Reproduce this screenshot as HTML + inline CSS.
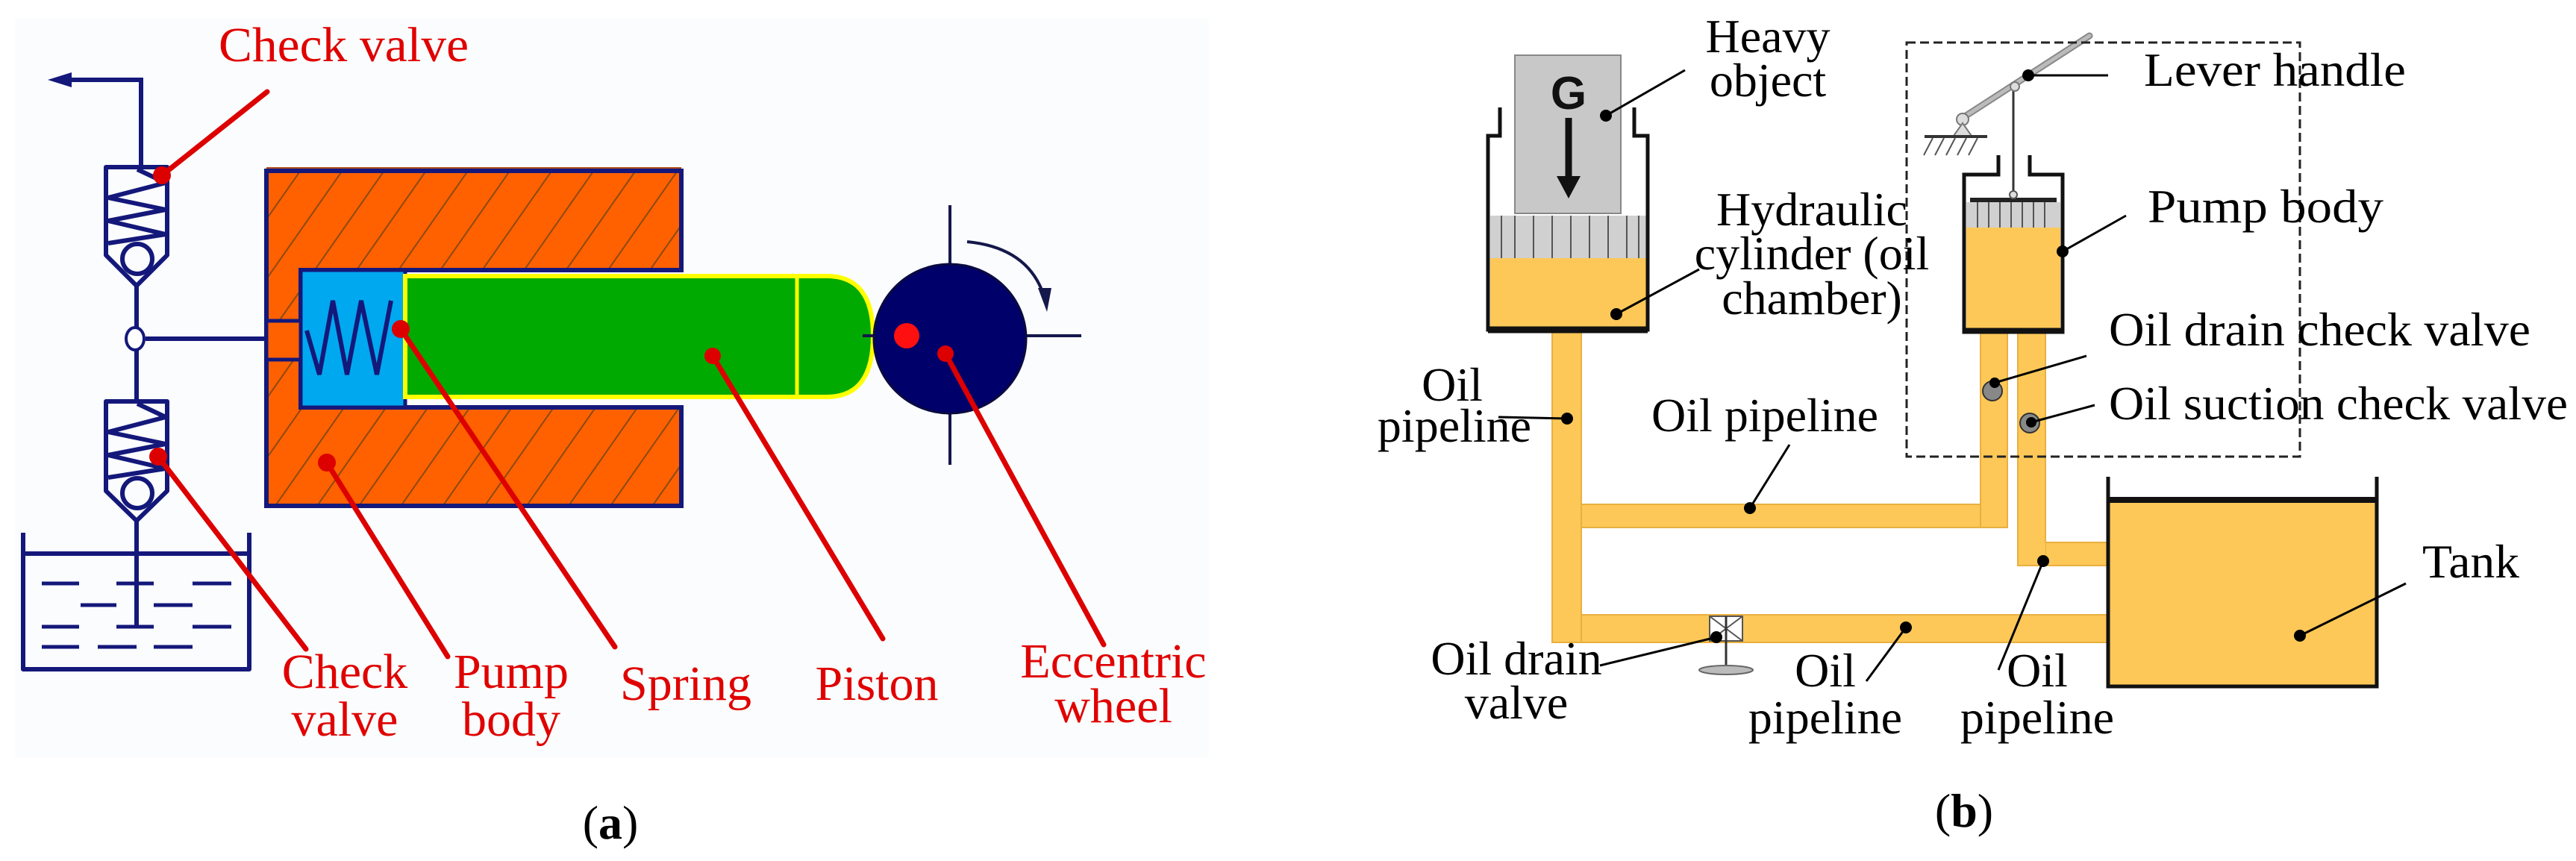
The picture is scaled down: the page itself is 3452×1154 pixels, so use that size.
<!DOCTYPE html>
<html><head><meta charset="utf-8"><style>
html,body{margin:0;padding:0;background:#fff;}
svg{display:block;}
.r{font-family:"Liberation Serif",serif;fill:#e00000;font-size:66px;}
.b{font-family:"Liberation Serif",serif;fill:#000;font-size:64px;}
</style></head><body>
<svg width="3452" height="1154" viewBox="0 0 3452 1154" xmlns="http://www.w3.org/2000/svg">
<defs>
<pattern id="hatch" width="46" height="46" patternUnits="userSpaceOnUse" patternTransform="rotate(35)">
<rect width="46" height="46" fill="#ff6000"/>
<line x1="0" y1="0" x2="0" y2="46" stroke="#8a4a12" stroke-width="4"/>
</pattern>
</defs>
<rect x="0" y="0" width="3452" height="1154" fill="#fff"/>
<rect x="20" y="25" width="1600" height="990" fill="#fafcfd"/>

<!-- (a) -->
<g stroke="#14187a" stroke-width="6" fill="none">
<polyline points="189,224 189,107 90,107"/>
</g>
<polygon points="64,107 96,97 96,117" fill="#14187a"/>
<g stroke="#14187a" stroke-width="6" fill="none" stroke-linejoin="round">
<path d="M142,224 H224 V342 L183,383 L142,342 Z"/>
<polyline points="184,227 222,245 145,265 222,281 145,296 222,314 145,326"/>
<circle cx="184" cy="347" r="20"/>
<line x1="183" y1="383" x2="183" y2="442"/>
<line x1="195" y1="454" x2="357" y2="454"/>
<line x1="183" y1="466" x2="183" y2="538"/>
<path d="M142,538 H224 V658 L183,698 L142,658 Z"/>
<polyline points="184,541 222,559 145,579 222,595 145,610 222,628 145,640"/>
<circle cx="184" cy="661" r="20"/>
<line x1="183" y1="698" x2="183" y2="842"/>
<polyline points="31,714 31,897 334,897 334,714"/>
<line x1="31" y1="742" x2="334" y2="742"/>
</g>
<ellipse cx="181" cy="454" rx="12" ry="15" fill="#fff" stroke="#14187a" stroke-width="4"/>
<g stroke="#14187a" stroke-width="5">
<line x1="56" y1="782" x2="106" y2="782"/><line x1="156" y1="782" x2="206" y2="782"/><line x1="258" y1="782" x2="310" y2="782"/>
<line x1="108" y1="811" x2="156" y2="811"/><line x1="206" y1="811" x2="258" y2="811"/>
<line x1="56" y1="840" x2="106" y2="840"/><line x1="156" y1="840" x2="206" y2="840"/><line x1="258" y1="840" x2="310" y2="840"/>
<line x1="56" y1="867" x2="106" y2="867"/><line x1="131" y1="867" x2="183" y2="867"/><line x1="206" y1="867" x2="258" y2="867"/>
</g>
<rect x="357" y="224" width="556" height="5" fill="#b05020"/>
<path d="M357,229 H913 V362 H403 V546 H913 V678 H357 Z" fill="url(#hatch)" stroke="#14187a" stroke-width="6"/>
<rect x="357" y="430" width="46" height="52" fill="#ff6000" stroke="#14187a" stroke-width="5"/>
<rect x="403" y="362" width="140" height="184" fill="#00a8f0" stroke="#14187a" stroke-width="5"/>
<polyline points="411,443 428,502 446,403 465,502 484,403 505,502 524,403" fill="none" stroke="#14187a" stroke-width="6"/>
<path d="M543,370 H1108 Q1170,370 1170,450 Q1170,532 1108,532 H543 Z" fill="#00aa00" stroke="#ffff00" stroke-width="6"/>
<line x1="1068" y1="372" x2="1068" y2="530" stroke="#ffff00" stroke-width="5"/>
<g stroke="#14184a" stroke-width="4">
<line x1="1273" y1="275" x2="1273" y2="623"/>
<line x1="1156" y1="450" x2="1449" y2="450"/>
</g>
<ellipse cx="1273" cy="454" rx="102" ry="100" fill="#00006a" stroke="#0a0a40" stroke-width="3"/>
<path d="M1296,324 Q1380,332 1400,400" fill="none" stroke="#14184a" stroke-width="4"/>
<polygon points="1403,418 1391,386 1409,386" fill="#14184a"/>
<circle cx="1215" cy="450" r="17" fill="#ff1010"/>
<g stroke="#dd0000" stroke-width="7" stroke-linecap="round">
<line x1="217" y1="235" x2="358" y2="123"/>
<line x1="212" y1="612" x2="410" y2="870"/>
<line x1="438" y1="620" x2="600" y2="880"/>
<line x1="537" y1="441" x2="824" y2="867"/>
<line x1="955" y1="477" x2="1183" y2="856"/>
<line x1="1267" y1="474" x2="1479" y2="864"/>
</g>
<g fill="#dd0000">
<circle cx="217" cy="235" r="12"/><circle cx="212" cy="612" r="12"/><circle cx="438" cy="620" r="12"/>
<circle cx="537" cy="441" r="12"/><circle cx="955" cy="477" r="11"/><circle cx="1267" cy="474" r="11"/>
</g>
<text class="r" x="293" y="82" textLength="335" lengthAdjust="spacingAndGlyphs">Check valve</text>
<g class="r" text-anchor="middle">
<text x="462" y="922">Check</text><text x="462" y="986">valve</text>
<text x="685" y="922">Pump</text><text x="685" y="986">body</text>
<text x="919" y="938">Spring</text>
<text x="1175" y="938">Piston</text>
<text x="1492" y="908">Eccentric</text><text x="1492" y="968">wheel</text>
</g>
<text x="818" y="1124" text-anchor="middle" font-family="Liberation Serif,serif" font-size="64">(<tspan font-weight="bold">a</tspan>)</text>

<!-- (b) -->
<g fill="#fdc858" stroke="#e8b040" stroke-width="2">
<rect x="2080" y="440" width="39" height="421"/>
<rect x="2119" y="676" width="571" height="31"/>
<rect x="2654" y="440" width="36" height="267"/>
<rect x="2119" y="824" width="706" height="37"/>
<rect x="2704" y="440" width="37" height="318"/>
<rect x="2741" y="727" width="84" height="31"/>
</g>
<rect x="2081" y="676" width="37" height="184" fill="#fdc858"/>
<rect x="2655" y="676" width="34" height="30" fill="#fdc858"/>
<rect x="2705" y="727" width="36" height="30" fill="#fdc858"/>
<rect x="2030" y="74" width="142" height="212" fill="#c8c8c8" stroke="#888" stroke-width="2"/>
<text x="2102" y="146" text-anchor="middle" font-family="Liberation Sans,sans-serif" font-weight="bold" font-size="62" fill="#111">G</text>
<line x1="2102" y1="158" x2="2102" y2="240" stroke="#111" stroke-width="9"/>
<polygon points="2102,266 2086,236 2118,236" fill="#111"/>
<rect x="1997" y="289" width="209" height="57" fill="#d0d0d0"/>
<g stroke="#555" stroke-width="2">
<line x1="2012" y1="289" x2="2012" y2="346"/><line x1="2030" y1="289" x2="2030" y2="346"/><line x1="2055" y1="289" x2="2055" y2="346"/><line x1="2080" y1="289" x2="2080" y2="346"/><line x1="2105" y1="289" x2="2105" y2="346"/><line x1="2130" y1="289" x2="2130" y2="346"/><line x1="2155" y1="289" x2="2155" y2="346"/><line x1="2180" y1="289" x2="2180" y2="346"/><line x1="2196" y1="289" x2="2196" y2="346"/>
</g>
<rect x="1997" y="346" width="209" height="94" fill="#fdc858"/>
<polyline points="2010,144 2010,182 1994,182 1994,442 2208,442 2208,182 2190,182 2190,144" fill="none" stroke="#111" stroke-width="5"/>
<line x1="1994" y1="442" x2="2208" y2="442" stroke="#111" stroke-width="9"/>
<rect x="2635" y="271" width="126" height="34" fill="#d0d0d0"/>
<g stroke="#555" stroke-width="2">
<line x1="2650" y1="271" x2="2650" y2="305"/><line x1="2665" y1="271" x2="2665" y2="305"/><line x1="2680" y1="271" x2="2680" y2="305"/><line x1="2695" y1="271" x2="2695" y2="305"/><line x1="2710" y1="271" x2="2710" y2="305"/><line x1="2725" y1="271" x2="2725" y2="305"/><line x1="2740" y1="271" x2="2740" y2="305"/>
</g>
<rect x="2640" y="265" width="116" height="6" fill="#222"/>
<rect x="2635" y="305" width="126" height="137" fill="#fdc858"/>
<polyline points="2678,208 2678,234 2632,234 2632,445 2764,445 2764,234 2720,234 2720,208" fill="none" stroke="#111" stroke-width="5"/>
<line x1="2632" y1="443" x2="2764" y2="443" stroke="#111" stroke-width="7"/>
<line x1="2698" y1="112" x2="2698" y2="260" stroke="#333" stroke-width="3"/>
<circle cx="2698" cy="261" r="5" fill="#ddd" stroke="#555" stroke-width="2"/>
<line x1="2630" y1="158" x2="2800" y2="48" stroke="#888" stroke-width="9" stroke-linecap="round"/>
<line x1="2630" y1="158" x2="2800" y2="48" stroke="#bbb" stroke-width="5" stroke-linecap="round"/>
<circle cx="2630" cy="160" r="8" fill="#ddd" stroke="#777" stroke-width="2"/>
<circle cx="2700" cy="116" r="6" fill="#ddd" stroke="#777" stroke-width="2"/>
<path d="M2630,165 L2618,182 H2642 Z" fill="#ddd" stroke="#777" stroke-width="2"/>
<line x1="2579" y1="183" x2="2663" y2="183" stroke="#333" stroke-width="4"/>
<g stroke="#555" stroke-width="2">
<line x1="2590" y1="185" x2="2578" y2="208"/><line x1="2605" y1="185" x2="2593" y2="208"/><line x1="2620" y1="185" x2="2608" y2="208"/><line x1="2635" y1="185" x2="2623" y2="208"/><line x1="2650" y1="185" x2="2638" y2="208"/>
</g>
<circle cx="2670" cy="524" r="13" fill="#888" stroke="#333" stroke-width="2"/>
<circle cx="2720" cy="567" r="13" fill="#888" stroke="#333" stroke-width="2"/>
<rect x="2555" y="57" width="527" height="555" fill="none" stroke="#222" stroke-width="3" stroke-dasharray="12,6"/>
<rect x="2825" y="670" width="360" height="250" fill="#fdc858"/>
<polyline points="2825,639 2825,920 3185,920 3185,639" fill="none" stroke="#111" stroke-width="5"/>
<line x1="2825" y1="670" x2="3185" y2="670" stroke="#111" stroke-width="8"/>
<rect x="2291" y="826" width="44" height="33" fill="#fff" stroke="#555" stroke-width="2"/>
<path d="M2291,826 L2335,859 M2335,826 L2291,859" stroke="#555" stroke-width="2"/>
<line x1="2313" y1="826" x2="2313" y2="896" stroke="#333" stroke-width="3"/>
<ellipse cx="2313" cy="898" rx="36" ry="6" fill="#bbb" stroke="#666" stroke-width="2"/>
<g stroke="#000" stroke-width="3">
<line x1="2152" y1="155" x2="2258" y2="94"/>
<line x1="2166" y1="421" x2="2277" y2="361"/>
<line x1="2008" y1="559" x2="2100" y2="561"/>
<line x1="2398" y1="596" x2="2345" y2="681"/>
<line x1="2144" y1="892" x2="2300" y2="854"/>
<line x1="2501" y1="913" x2="2554" y2="841"/>
<line x1="2678" y1="898" x2="2738" y2="752"/>
<line x1="2718" y1="101" x2="2825" y2="101"/>
<line x1="2764" y1="337" x2="2849" y2="289"/>
<line x1="2673" y1="513" x2="2796" y2="477"/>
<line x1="2722" y1="566" x2="2807" y2="543"/>
<line x1="3082" y1="852" x2="3224" y2="782"/>
</g>
<g fill="#000">
<circle cx="2152" cy="155" r="8"/><circle cx="2166" cy="421" r="8"/><circle cx="2100" cy="561" r="8"/>
<circle cx="2345" cy="681" r="8"/><circle cx="2300" cy="854" r="8"/><circle cx="2554" cy="841" r="8"/>
<circle cx="2738" cy="752" r="8"/><circle cx="2718" cy="101" r="8"/><circle cx="2764" cy="337" r="8"/>
<circle cx="2673" cy="513" r="7"/><circle cx="2722" cy="566" r="7"/><circle cx="3082" cy="852" r="8"/>
</g>
<g class="b" text-anchor="middle">
<text x="2369" y="70">Heavy</text><text x="2369" y="129">object</text>
<text x="2428" y="302">Hydraulic</text><text x="2428" y="361">cylinder (oil</text><text x="2428" y="421">chamber)</text>
<text x="1946" y="537">Oil</text><text x="1949" y="592">pipeline</text>
<text x="2365" y="578">Oil pipeline</text>
<text x="2032" y="904">Oil drain</text><text x="2032" y="963">valve</text>
<text x="2446" y="920">Oil</text><text x="2446" y="983">pipeline</text>
<text x="2730" y="920">Oil</text><text x="2730" y="983">pipeline</text>
</g>
<g class="b">
<text x="2873" y="115" textLength="351" lengthAdjust="spacingAndGlyphs">Lever handle</text>
<text x="2878" y="298" textLength="316" lengthAdjust="spacingAndGlyphs">Pump body</text>
<text x="2826" y="463" textLength="565" lengthAdjust="spacingAndGlyphs">Oil drain check valve</text>
<text x="2826" y="562" textLength="615" lengthAdjust="spacingAndGlyphs">Oil suction check valve</text>
<text x="3246" y="774" textLength="130" lengthAdjust="spacingAndGlyphs">Tank</text>
</g>
<text x="2632" y="1108" text-anchor="middle" font-family="Liberation Serif,serif" font-size="64">(<tspan font-weight="bold">b</tspan>)</text>
</svg>
</body></html>
